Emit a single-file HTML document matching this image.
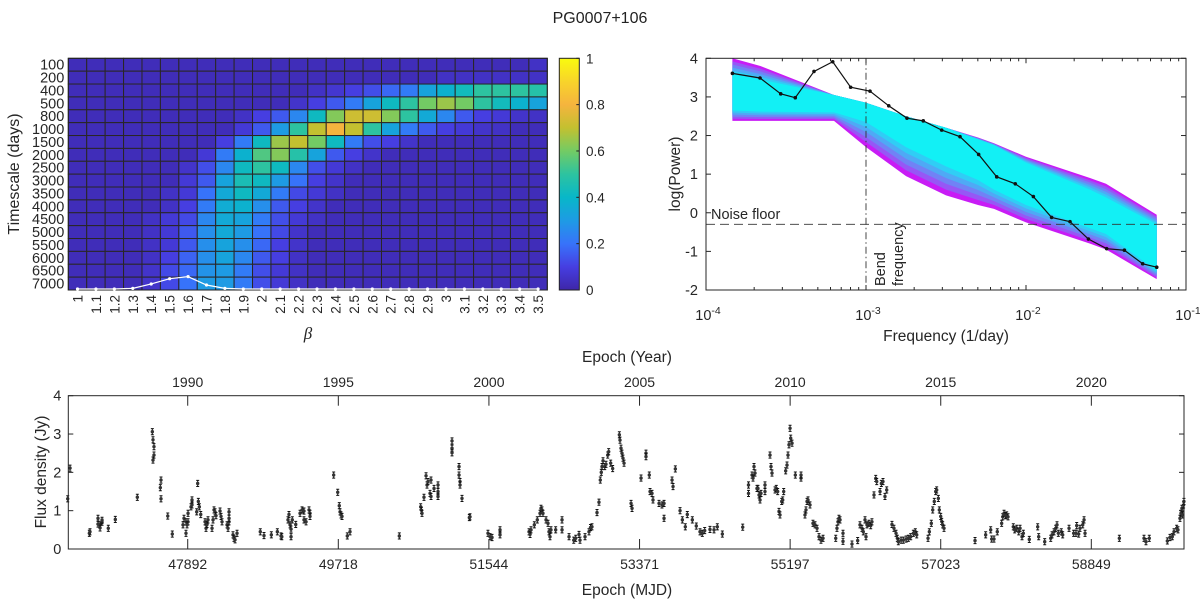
<!DOCTYPE html>
<html><head><meta charset="utf-8"><style>
body{margin:0;background:#fff}
svg{display:block;font-family:"Liberation Sans",Arial,sans-serif}
</style></head><body>
<svg id="svg" width="1200" height="600" viewBox="0 0 1200 600">
<rect width="1200" height="600" fill="#fff"/>
<text x="600" y="23" font-size="16" text-anchor="middle" fill="#222">PG0007+106</text>
<g id="hm"></g>
<g id="psd"></g>
<g id="lc"></g>
</svg>
<script>
// ===== Heatmap data =====
const betaLabels=["1","1.1","1.2","1.3","1.4","1.5","1.6","1.7","1.8","1.9","2","2.1","2.2","2.3","2.4","2.5","2.6","2.7","2.8","2.9","3","3.1","3.2","3.3","3.4","3.5"];
const timescaleLabels=["100","200","400","500","800","1000","1500","2000","2500","3000","3500","4000","4500","5000","5500","6000","6500","7000"];
const B=0.03;
const hmValues=[
[B,B,B,B,B,B,B,B,B,B,B,B,B,B,B,B,B,B,B,B,B,B,B,B,B,0.05],
[B,B,B,B,B,B,B,B,B,B,B,B,B,B,B,B,B,B,B,B,0.05,0.05,0.05,0.05,0.05,0.05],
[B,B,B,B,B,B,B,B,B,B,B,B,B,0.05,0.07,0.1,0.13,0.18,0.22,0.33,0.38,0.43,0.5,0.5,0.5,0.48],
[B,B,B,B,B,B,B,B,B,B,B,B,0.06,0.1,0.15,0.22,0.33,0.42,0.5,0.6,0.65,0.6,0.5,0.43,0.38,0.33],
[B,B,B,B,B,B,B,B,B,0.05,0.1,0.15,0.25,0.42,0.62,0.72,0.72,0.62,0.5,0.35,0.25,0.15,0.1,0.08,0.06,0.05],
[B,B,B,B,B,B,B,B,B,0.08,0.15,0.3,0.5,0.7,0.8,0.7,0.5,0.33,0.22,0.15,0.1,0.08,0.06,0.05,B,B],
[B,B,B,B,B,B,B,B,0.1,0.22,0.42,0.65,0.7,0.6,0.42,0.22,0.13,0.1,0.06,B,B,B,B,B,B,B],
[B,B,B,B,B,B,B,0.08,0.22,0.38,0.55,0.62,0.48,0.33,0.15,0.1,0.06,B,B,B,B,B,B,B,B,B],
[B,B,B,B,B,B,0.06,0.13,0.25,0.42,0.5,0.42,0.25,0.13,0.08,0.05,B,B,B,B,B,B,B,B,B,B],
[B,B,B,B,B,B,0.08,0.15,0.33,0.45,0.42,0.3,0.2,0.1,0.06,B,B,B,B,B,B,B,B,B,B,B],
[B,B,B,B,B,0.05,0.08,0.2,0.35,0.42,0.35,0.22,0.12,0.08,0.05,B,B,B,B,B,B,B,B,B,B,B],
[B,B,B,B,B,0.05,0.1,0.22,0.36,0.38,0.27,0.15,0.1,0.06,B,B,B,B,B,B,B,B,B,B,B,B],
[B,B,B,B,0.05,0.08,0.12,0.25,0.35,0.33,0.22,0.13,0.08,0.05,B,B,B,B,B,B,B,B,B,B,B,B],
[B,B,B,B,0.05,0.08,0.15,0.27,0.35,0.3,0.2,0.12,0.06,B,B,B,B,B,B,B,B,B,B,B,B,B],
[B,B,B,B,0.05,0.08,0.15,0.27,0.33,0.27,0.18,0.1,0.06,B,B,B,B,B,B,B,B,B,B,B,B,B],
[B,B,B,B,0.05,0.1,0.17,0.27,0.33,0.25,0.15,0.1,0.05,B,B,B,B,B,B,B,B,B,B,B,B,B],
[B,B,B,B,0.06,0.12,0.18,0.28,0.3,0.22,0.13,0.08,0.05,B,B,B,B,B,B,B,B,B,B,B,B,B],
[B,B,B,B,0.06,0.12,0.2,0.3,0.3,0.22,0.13,0.08,0.05,B,B,B,B,B,B,B,B,B,B,B,B,B]];
const marginalCurve=[0,0,0,0.05,0.39,0.8,0.96,0.31,0.05,0,0,0,0,0,0,0,0,0,0,0,0,0,0,0,0,0];
const cbarTicks=[0,0.2,0.4,0.6,0.8,1];

// ===== PSD data =====
const psdLogFreq=[-3.835,-3.6625,-3.533,-3.442,-3.325,-3.208,-3.096,-2.975,-2.858,-2.744,-2.642,-2.527,-2.4125,-2.296,-2.183,-2.067,-1.954,-1.84,-1.725,-1.61,-1.496,-1.385,-1.271,-1.183];
const psdLogPower=[3.61,3.49,3.08,2.98,3.66,3.91,3.25,3.15,2.77,2.45,2.38,2.14,1.97,1.51,0.93,0.75,0.42,-0.12,-0.23,-0.68,-0.93,-0.97,-1.32,-1.41];
const envLogFreq=[-3.835,-3.66,-3.2,-3.0,-2.75,-2.5,-2.3,-2.2,-2.0,-1.6,-1.5,-1.183];
const envOuterUpper=[4.0,3.8,3.05,2.85,2.5,2.2,1.95,1.8,1.45,0.9,0.75,-0.05];
const envOuterLower=[2.38,2.38,2.38,1.7,0.95,0.45,0.2,0.1,-0.25,-0.8,-0.95,-1.72];
const envInnerUpper=[3.6,3.45,3.05,2.85,2.5,2.2,1.9,1.75,1.3,0.6,0.4,-0.3];
const envInnerLower=[2.65,2.62,2.6,2.35,1.7,1.2,0.85,0.6,0.2,-0.4,-0.55,-1.5];
const noiseFloor=-0.3;
const bendLogFreq=-3;
const psdYTicks=[-2,-1,0,1,2,3,4];
const psdXDecades=[-4,-3,-2,-1];

// ===== Light curve data =====
const lcMJD=[46437,46465,46699,46707,46804,46829,46853,46829,46853,46804,46929,47014,47281,47463,47471,47483,47471,47483,47560,47568,47568,47650,47705,47835,47847,47871,47871,47896,47896,47884,47932,47944,47944,48001,48013,48021,48033,48050,48102,48114,48126,48138,48187,48199,48211,48223,48235,48284,48296,48308,48369,48381,48393,48393,48393,48441,48453,48466,48490,48772,48817,48906,48979,49023,49033,49108,49120,49133,49145,49145,49160,49202,49254,49278,49302,49302,49327,49363,49375,49375,49662,49711,49730,49739,49751,49763,49827,49860,50458,50717,50727,50733,50757,50782,50794,50806,50830,50842,50842,50879,50927,50927,50927,51097,51097,51097,51182,51182,51194,51194,51218,51307,51315,51533,51558,51582,51679,51679,52031,52043,52055,52095,52131,52164,52176,52188,52200,52237,52261,52273,52285,52297,52354,52431,52431,52516,52573,52597,52637,52649,52710,52758,52776,52794,52855,52879,52895,52907,52916,52928,52949,52964,52985,52997,53021,53045,53126,53134,53146,53158,53170,53183,53268,53280,53389,53449,53449,53489,53498,53522,53534,53607,53643,53668,53668,53765,53777,53805,53862,53890,53926,53950,54011,54059,54104,54132,54161,54225,54274,54314,54375,54622,54692,54692,54735,54747,54759,54771,54795,54807,54820,54832,54844,54892,54892,54953,54965,54977,55014,55029,55046,55062,55074,55095,55107,55119,55143,55159,55171,55183,55196,55204,55220,55260,55329,55329,55377,55389,55402,55414,55438,55474,55499,55523,55547,55571,55596,55750,55765,55777,55789,55802,55838,55838,55947,56016,56044,56068,56084,56105,56117,56129,56153,56174,56189,56214,56235,56247,56287,56303,56323,56347,56368,56432,56456,56481,56497,56509,56542,56569,56603,56630,56659,56691,56715,56732,56869,56885,56909,56926,56945,56962,56974,56994,57006,57023,57035,57047,57063,57439,57568,57629,57641,57669,57709,57762,57775,57791,57807,57823,57839,57903,57920,57945,57969,57985,58009,58025,58097,58199,58211,58284,58357,58373,58397,58417,58433,58449,58485,58502,58579,58635,58663,58696,58672,58712,58745,58761,58773,59189,59488,59512,59552,59771,59803,59831,59852,59884,59900,59924,59936,59948,59957,59968,59972];
const lcFlux=[1.31,2.11,0.41,0.45,0.80,0.63,0.70,0.55,0.75,0.65,0.54,0.77,1.35,3.06,2.85,2.67,2.32,2.45,1.60,1.80,1.31,0.86,0.39,0.63,0.80,0.71,0.41,0.93,0.71,0.63,1.10,1.15,1.28,0.97,1.71,1.24,1.10,0.90,0.71,0.54,0.64,0.76,0.54,0.76,1.02,0.97,0.87,0.99,0.85,0.71,0.63,0.54,0.71,0.97,0.80,0.37,0.28,0.24,0.41,0.45,0.35,0.37,0.45,0.34,0.32,0.76,0.90,0.63,0.52,0.32,0.76,0.64,0.93,1.02,0.76,0.99,0.71,1.02,0.93,0.85,1.93,1.48,1.13,0.97,0.89,0.85,0.34,0.45,0.34,1.10,1.01,0.93,1.35,1.91,1.67,1.76,1.45,1.80,1.37,1.58,1.67,1.50,1.37,2.82,2.63,2.51,2.15,1.93,1.76,1.67,1.32,0.82,0.84,0.41,0.32,0.30,0.50,0.37,0.45,0.38,0.50,0.63,0.76,0.93,1.06,1.02,0.93,0.76,0.67,0.45,0.32,0.50,0.50,0.76,0.50,0.32,0.23,0.28,0.38,0.23,0.32,0.45,0.56,0.58,0.95,1.22,1.80,2.00,2.15,2.30,2.15,2.21,2.45,2.54,2.24,2.10,2.98,2.84,2.63,2.50,2.37,2.24,1.19,1.06,1.85,2.50,2.41,1.93,1.50,1.45,1.28,1.19,1.15,1.19,0.80,1.80,1.63,2.09,1.00,0.76,0.58,0.90,0.76,0.60,0.45,0.41,0.48,0.51,0.50,0.58,0.39,0.57,1.45,1.67,1.93,1.85,2.15,1.98,1.58,1.58,1.41,1.28,1.45,1.50,1.67,2.45,2.15,1.98,1.54,1.58,1.50,0.98,0.89,1.24,1.28,1.50,2.04,2.19,2.45,2.72,3.15,2.89,2.76,1.93,1.85,1.93,0.89,1.02,1.24,1.28,1.15,0.67,0.63,0.54,0.32,0.23,0.28,0.28,0.54,0.71,0.80,0.76,0.41,0.20,0.13,0.22,0.63,0.54,0.45,0.76,0.32,0.63,0.67,0.61,0.71,1.41,1.84,1.76,1.50,1.71,1.76,1.37,1.54,0.64,0.54,0.41,0.28,0.19,0.23,0.23,0.26,0.28,0.32,0.41,0.45,0.37,0.28,0.45,0.67,1.02,1.24,1.50,1.54,1.32,1.02,0.85,0.72,0.63,0.54,0.22,0.37,0.50,0.26,0.26,0.45,0.67,0.84,0.93,0.87,0.89,0.84,0.58,0.50,0.54,0.45,0.54,0.32,0.41,0.25,0.58,0.32,0.19,0.28,0.37,0.45,0.54,0.63,0.41,0.45,0.37,0.54,0.41,0.41,0.39,0.61,0.54,0.63,0.76,0.41,0.28,0.28,0.19,0.28,0.21,0.30,0.32,0.45,0.54,0.50,0.80,0.93,1.06,0.89,1.15,1.24];
const lcErr=0.08;
const mjdTicks=[47892,49718,51544,53371,55197,57023,58849];
const yearTicks=[1990,1995,2000,2005,2010,2015,2020];
const fluxTicks=[0,1,2,3,4];

const NS="http://www.w3.org/2000/svg";
function mk(tag,attrs,parent,txt){const e=document.createElementNS(NS,tag);for(const k in attrs)e.setAttribute(k,attrs[k]);if(txt!==undefined)e.textContent=txt;parent.appendChild(e);return e;}

const parStops=[[0,[62,38,168]],[0.1,[70,62,225]],[0.2,[55,115,250]],[0.3,[30,155,228]],[0.4,[8,183,200]],[0.5,[45,195,160]],[0.6,[115,203,100]],[0.7,[195,192,48]],[0.8,[245,180,62]],[0.9,[248,212,42]],[1,[249,251,14]]];
function parula(v){v=Math.max(0,Math.min(1,v));for(let i=1;i<parStops.length;i++){if(v<=parStops[i][0]){const a=parStops[i-1],b=parStops[i];const t=(v-a[0])/(b[0]-a[0]);return "rgb("+a[1].map((c,j)=>Math.round(c+(b[1][j]-c)*t)).join(",")+")";}}return "rgb(249,251,14)";}

// ===== Heatmap =====
(function(){
const g=document.getElementById('hm');
const L=68.3,T=58.3,R=547.3,Bt=290;
const nC=betaLabels.length,nR=timescaleLabels.length;
const cw=(R-L)/nC,rh=(Bt-T)/nR;
const colX=i=>L+i*cw, rowY=j=>T+j*rh;
mk('rect',{x:L,y:T,width:R-L,height:Bt-T,fill:'#352a87'},g);
for(let j=0;j<nR;j++)for(let i=0;i<nC;i++){
 const c=mk('rect',{x:colX(i),y:rowY(j),width:cw,height:rh,fill:parula(hmValues[j][i]),stroke:'#2a2626','stroke-width':1},g);
 
 
}
mk('rect',{x:L,y:T,width:R-L,height:Bt-T,fill:'none',stroke:'#222','stroke-width':1},g);
for(let j=0;j<nR;j++){const t=mk('text',{x:L-4,y:rowY(j)+rh/2+5,'font-size':14.5,'text-anchor':'end',fill:'#262626'},g,timescaleLabels[j]);
 }
for(let i=0;i<nC;i++){const cx=colX(i)+cw/2+5;const t=mk('text',{x:cx,y:295,'font-size':13.5,'text-anchor':'end',fill:'#262626',transform:`rotate(-90 ${cx} 295)`},g,betaLabels[i]);
 }
let pts=marginalCurve.map((v,i)=>[colX(i)+cw/2,Bt-1-v*rh]);
const pl=mk('polyline',{points:pts.map(p=>p.join(',')).join(' '),fill:'none',stroke:'#fff','stroke-width':1.2},g);

pts.forEach(p=>{const c=mk('circle',{cx:p[0],cy:p[1],r:1.6,fill:'#fff'},g);});
const yl=mk('text',{x:19,y:174,'font-size':16,'text-anchor':'middle',fill:'#262626',transform:'rotate(-90 19 174)'},g,'Timescale (days)');

const xl=mk('text',{x:308,y:339,'font-size':17,'font-style':'italic','font-family':'Liberation Serif,serif','text-anchor':'middle',fill:'#262626'},g,'β');

const cbL=559.3,cbR=579.3;
const defs=mk('defs',{},g);const lg=mk('linearGradient',{id:'cbg',x1:0,y1:1,x2:0,y2:0},defs);
for(let k=0;k<=20;k++)mk('stop',{offset:k/20,'stop-color':parula(k/20)},lg);
const cb=mk('rect',{x:cbL,y:T,width:cbR-cbL,height:Bt-T,fill:'url(#cbg)',stroke:'#222','stroke-width':1},g);

cbarTicks.forEach(v=>{const y=Bt-v*(Bt-T);mk('line',{x1:cbR-3,x2:cbR,y1:y,y2:y,stroke:'#222'},g);
 const t=mk('text',{x:586,y:y+5,'font-size':13.5,fill:'#262626'},g,String(v));});
})();

// ===== PSD =====
(function(){
const g=document.getElementById('psd');
const L=706,R=1186,T=58.3,Bt=290;
const xs=lf=>L+(lf+4)*(R-L)/3, ys=v=>T+(4-v)*(Bt-T)/6;
const cp=mk('clipPath',{id:'psdclip'},mk('defs',{},g));mk('rect',{x:L,y:T,width:R-L,height:Bt-T},cp);
function band(up,lo,fill,name){const p=envLogFreq.map((f,i)=>xs(f)+','+ys(up[i])).concat(envLogFreq.map((f,i)=>xs(f)+','+ys(lo[i])).reverse());
 const e=mk('polygon',{points:p.join(' '),fill:fill,'clip-path':'url(#psdclip)'},g);return e;}
const c0=[200,28,245],c1=[18,240,245];
const NL=5;
for(let k=0;k<=NL;k++){const t=k/NL;
 const up=envOuterUpper.map((v,i)=>v+(envInnerUpper[i]-v)*t),lo=envOuterLower.map((v,i)=>v+(envInnerLower[i]-v)*t);
 const col='rgb('+c0.map((c,j)=>Math.round(c+(c1[j]-c)*Math.pow(t,0.8))).join(',')+')';
 band(up,lo,col,k===0?'simulated-psd-envelope':(k===NL?'simulated-psd-core':'simulated-psd-blend'));}
const nf=mk('line',{x1:L,x2:R,y1:ys(noiseFloor),y2:ys(noiseFloor),stroke:'#333','stroke-dasharray':'9,5','stroke-width':0.9},g);

const bf=mk('line',{x1:xs(bendLogFreq),x2:xs(bendLogFreq),y1:T,y2:Bt,stroke:'#333','stroke-dasharray':'7,3,1.5,3','stroke-width':0.9},g);

const nt=mk('text',{x:711,y:219,'font-size':14.5,fill:'#262626'},g,'Noise floor');
const bt1=mk('text',{x:885,y:286,'font-size':14.5,fill:'#262626',transform:'rotate(-90 885 286)'},g,'Bend');
const bt2=mk('text',{x:903,y:286,'font-size':14.5,fill:'#262626',transform:'rotate(-90 903 286)'},g,'frequency');
const pl=mk('polyline',{points:psdLogFreq.map((f,i)=>xs(f)+','+ys(psdLogPower[i])).join(' '),fill:'none',stroke:'#111','stroke-width':1.2},g);

psdLogFreq.forEach((f,i)=>{const c=mk('circle',{cx:xs(f),cy:ys(psdLogPower[i]),r:1.8,fill:'#111'},g);});
mk('rect',{x:L,y:T,width:R-L,height:Bt-T,fill:'none',stroke:'#262626','stroke-width':1},g);
psdYTicks.forEach(v=>{const y=ys(v);mk('line',{x1:L,x2:L+5,y1:y,y2:y,stroke:'#262626'},g);mk('line',{x1:R-5,x2:R,y1:y,y2:y,stroke:'#262626'},g);
 const t=mk('text',{x:L-8,y:y+5,'font-size':14.5,'text-anchor':'end',fill:'#262626'},g,String(v));});
psdXDecades.forEach((d,k)=>{const x=xs(d);mk('line',{x1:x,x2:x,y1:Bt,y2:Bt-5,stroke:'#262626'},g);mk('line',{x1:x,x2:x,y1:T,y2:T+5,stroke:'#262626'},g);
 const t=mk('text',{x:x+2,y:320,'font-size':14.5,'text-anchor':'middle',fill:'#262626'},g,'10');mk('tspan',{dy:-6,'font-size':10.5},t,String(d));
 
 if(k<psdXDecades.length-1)for(let m=2;m<=9;m++){const xm=xs(d+Math.log10(m));mk('line',{x1:xm,x2:xm,y1:Bt,y2:Bt-3,stroke:'#262626'},g);mk('line',{x1:xm,x2:xm,y1:T,y2:T+3,stroke:'#262626'},g);}});
const xl=mk('text',{x:946,y:341,'font-size':15.5,'text-anchor':'middle',fill:'#262626'},g,'Frequency (1/day)');
const yl=mk('text',{x:680,y:174,'font-size':15.5,'text-anchor':'middle',fill:'#262626',transform:'rotate(-90 680 174)'},g,'log(Power)');
})();

// ===== Light curve =====
(function(){
const g=document.getElementById('lc');
const L=68.3,R=1184,T=395.7,Bt=549;
const m0=46444,m1=59973;
const xs=m=>L+(m-m0)*(R-L)/(m1-m0), ys=v=>Bt-v*(Bt-T)/4;
const yearToMJD=y=>47892+(y-1990)*365.25;
const cp=mk('clipPath',{id:'lcclip'},mk('defs',{},g));mk('rect',{x:L-3,y:T,width:R-L+6,height:Bt-T},cp);
const pg=mk('g',{'clip-path':'url(#lcclip)'},g);
lcMJD.forEach((m,i)=>{const x=xs(m),y=ys(lcFlux[i]),y1=ys(lcFlux[i]+lcErr),y2=ys(lcFlux[i]-lcErr);
 const e=mk('path',{d:`M${x} ${y1}V${y2}M${x-1.5} ${y1}H${x+1.5}M${x-1.5} ${y2}H${x+1.5}`,stroke:'#111','stroke-width':1,fill:'none'},pg);
 
 const c=mk('circle',{cx:x,cy:y,r:1.7,fill:'#333'},pg);
 });
mk('rect',{x:L,y:T,width:R-L,height:Bt-T,fill:'none',stroke:'#262626','stroke-width':1},g);
fluxTicks.forEach(v=>{const y=ys(v);mk('line',{x1:L,x2:L+5,y1:y,y2:y,stroke:'#262626'},g);mk('line',{x1:R-5,x2:R,y1:y,y2:y,stroke:'#262626'},g);
 const t=mk('text',{x:L-7,y:y+5,'font-size':14.5,'text-anchor':'end',fill:'#262626'},g,String(v));});
mjdTicks.forEach(m=>{const x=xs(m);mk('line',{x1:x,x2:x,y1:Bt,y2:Bt-10,stroke:'#262626'},g);
 const t=mk('text',{x:x,y:569,'font-size':14,'text-anchor':'middle',fill:'#262626'},g,String(m));});
yearTicks.forEach(yv=>{const x=xs(yearToMJD(yv));mk('line',{x1:x,x2:x,y1:T,y2:T+10,stroke:'#262626'},g);
 const t=mk('text',{x:x,y:387,'font-size':14,'text-anchor':'middle',fill:'#262626'},g,String(yv));});
const t1=mk('text',{x:627,y:362,'font-size':15.5,'text-anchor':'middle',fill:'#262626'},g,'Epoch (Year)');
const t2=mk('text',{x:627,y:595,'font-size':15.5,'text-anchor':'middle',fill:'#262626'},g,'Epoch (MJD)');
const t3=mk('text',{x:46,y:472,'font-size':15.5,'text-anchor':'middle',fill:'#262626',transform:'rotate(-90 46 472)'},g,'Flux density (Jy)');
})();
</script>
</body></html>
